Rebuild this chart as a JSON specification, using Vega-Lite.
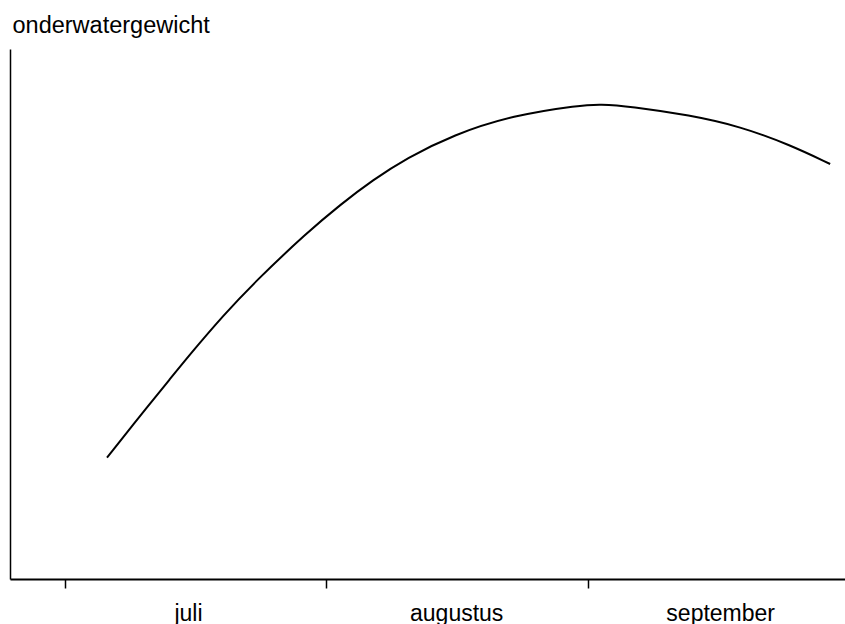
{
  "$schema": "https://vega.github.io/schema/vega-lite/v6.json",
  "width": 835,
  "height": 530,
  "autosize": "none",
  "padding": {"left": 10, "top": 49, "right": 0, "bottom": 45},
  "background": "white",
  "config": {
    "view": {"stroke": null},
    "font": "Liberation Sans",
    "axis": {"grid": false, "domainColor": "black", "tickColor": "black", "labelColor": "black", "titleColor": "black"}
  },
  "data": {
    "values": [
      {"dag": 5.0, "gewicht": 22.9},
      {"dag": 10.1, "gewicht": 33.1},
      {"dag": 12.35, "gewicht": 37.5},
      {"dag": 14.85, "gewicht": 42.4},
      {"dag": 18.76, "gewicht": 49.7},
      {"dag": 22.75, "gewicht": 56.4},
      {"dag": 28.68, "gewicht": 65.3},
      {"dag": 32.63, "gewicht": 70.6},
      {"dag": 36.54, "gewicht": 75.3},
      {"dag": 40.54, "gewicht": 79.4},
      {"dag": 46.03, "gewicht": 83.8},
      {"dag": 53.14, "gewicht": 87.5},
      {"dag": 61.08, "gewicht": 89.4},
      {"dag": 63.46, "gewicht": 89.6},
      {"dag": 67.02, "gewicht": 89.2},
      {"dag": 74.13, "gewicht": 87.5},
      {"dag": 80.06, "gewicht": 85.4},
      {"dag": 86.0, "gewicht": 81.9},
      {"dag": 90.74, "gewicht": 78.3}
    ]
  },
  "mark": {"type": "line", "color": "black", "strokeWidth": 2, "interpolate": "basis"},
  "encoding": {
    "x": {
      "field": "dag", "type": "quantitative",
      "scale": {"domain": [-6.5, 92.5], "nice": false, "zero": false},
      "axis": {
        "orient": "bottom", "title": null,
        "values": [0, 14.6, 31, 46.4, 62, 77.7],
        "tickSize": 9, "tickWidth": 1.5, "domainWidth": 2,
        "tickOpacity": {"condition": {"test": "datum.value == 0 || datum.value == 31 || datum.value == 62", "value": 1}, "value": 0},
        "labelExpr": "datum.value == 14.6 ? 'juli' : datum.value == 46.4 ? 'augustus' : datum.value == 77.7 ? 'september' : ''",
        "labelFontSize": 23, "labelBaseline": "alphabetic", "labelPadding": 32,
        "labelAlign": "center", "labelOverlap": false, "labelFlush": false
      }
    },
    "y": {
      "field": "gewicht", "type": "quantitative",
      "scale": {"domain": [0, 100], "nice": false},
      "axis": {
        "title": "onderwatergewicht", "titleAngle": 0, "titleAlign": "left",
        "titleBaseline": "alphabetic", "titleX": 2, "titleY": -17,
        "titleFontSize": 23.5, "titleFontWeight": "normal",
        "labels": false, "ticks": false, "domainWidth": 1.5
      }
    }
  }
}
